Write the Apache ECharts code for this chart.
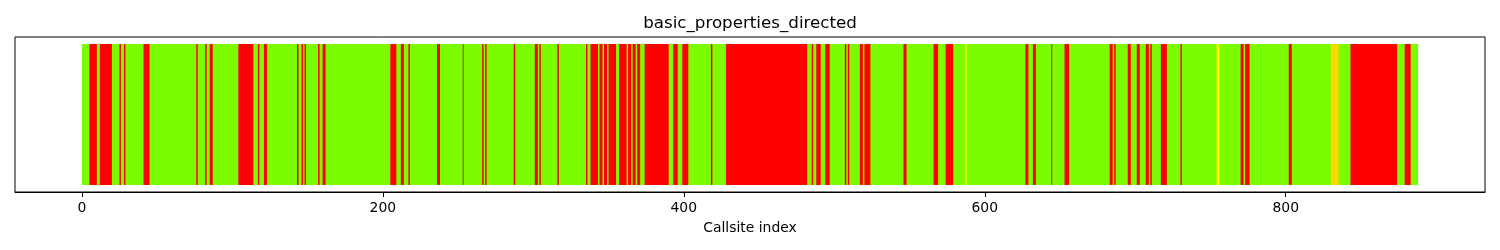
<!DOCTYPE html>
<html><head><meta charset="utf-8">
<script src="https://cdn.jsdelivr.net/npm/echarts@6/dist/echarts.min.js"></script>
<style>html,body{margin:0;padding:0;background:#fff}#c{width:1500px;height:250px}</style>
</head><body><div id="c"></div>
<script>
// total number of callsites
const nCallsites = 888;
const xTicks = [0, 200, 400, 600, 800];
// status colours
const statusColors = { pass: '#7CFC00', fail: '#FF0000', warn: '#FFFF00', partial: '#FFD700', other: '#8B7D00' };
// non-pass segments: [start, end) in callsite index
const segStart = [5, 12, 25, 28, 41, 76, 82, 85, 104, 117, 121, 143, 146, 148, 157, 160, 205, 212, 217, 236, 253, 266, 268, 287, 301, 304, 316,
  335, 338, 344, 347, 350, 357, 363, 366, 369, 374, 393, 399, 418, 428, 485, 488, 494, 507, 509, 517, 520, 546,
  566, 574, 587, 627, 632, 644, 653, 683, 686, 695, 701, 707, 710, 717, 730, 754, 770, 773, 802, 830, 843, 879];
const segEnd   = [10, 20, 26, 29, 45, 77, 83, 87, 114, 118, 123, 144, 147, 149, 158, 162, 209, 214, 218, 238, 254, 267, 269, 288, 303, 305, 317,
  336, 343, 346, 349, 355, 362, 365, 368, 371, 390, 396, 403, 419, 482, 486, 491, 497, 508, 510, 519, 524, 548,
  569, 579, 588, 629, 634, 645, 656, 685, 687, 697, 703, 709, 711, 721, 731, 756, 772, 776, 804, 835, 874, 883];
const segStatus = ['fail','fail','fail','fail','fail','fail','fail','fail','fail','fail','fail','fail','fail','fail','fail','fail','fail','fail','fail','fail','other','fail','fail','fail','fail','fail','fail',
  'fail','fail','fail','fail','fail','fail','fail','fail','fail','fail','fail','fail','fail','fail','fail','fail','fail','fail','fail','fail','fail','fail',
  'fail','fail','warn','fail','fail','other','fail','fail','fail','fail','fail','fail','fail','fail','fail','warn','fail','fail','fail','partial','fail','fail'];

const data = [[0, nCallsites, 'pass']];
for (let i = 0; i < segStart.length; i++) data.push([segStart[i], segEnd[i], segStatus[i]]);

const pad = nCallsites * 0.05;
const chart = echarts.init(document.getElementById('c'), null, { renderer: 'canvas' });
chart.setOption({
  animation: false,
  title: { text: 'basic_properties_directed', left: 'center', top: 10,
    textStyle: { fontFamily: 'DejaVu Sans', fontSize: 16.7, fontWeight: 'normal', color: '#000' } },
  grid: { left: 15, right: 15, top: 37, bottom: 58, show: true, borderColor: '#000', borderWidth: 1, backgroundColor: 'transparent' },
  xAxis: { type: 'value', min: -pad, max: nCallsites + pad,
    name: 'Callsite index', nameLocation: 'middle', nameGap: 29,
    nameTextStyle: { fontFamily: 'DejaVu Sans', fontSize: 13.9, color: '#000' },
    axisLine: { show: true, onZero: false, lineStyle: { color: '#000', width: 1 } },
    axisTick: { show: true, length: 5, lineStyle: { color: '#000' }, customValues: xTicks },
    axisLabel: { show: true, margin: 9, fontFamily: 'DejaVu Sans', fontSize: 13.9, color: '#000', customValues: xTicks },
    splitLine: { show: false } },
  yAxis: { type: 'value', min: -0.05, max: 1.05, axisLine: { show: false }, axisTick: { show: false },
    axisLabel: { show: false }, splitLine: { show: false } },
  series: [{
    type: 'custom',
    data: data,
    encode: { x: [0, 1] },
    renderItem: function (params, api) {
      const s = api.value(0), e = api.value(1);
      const st = data[params.dataIndex][2];
      const p0 = api.coord([s, 1]);
      const p1 = api.coord([e, 0]);
      return { type: 'rect', shape: { x: p0[0], y: p0[1], width: p1[0] - p0[0], height: p1[1] - p0[1] },
        style: { fill: statusColors[st] } };
    }
  }]
});
</script></body></html>
